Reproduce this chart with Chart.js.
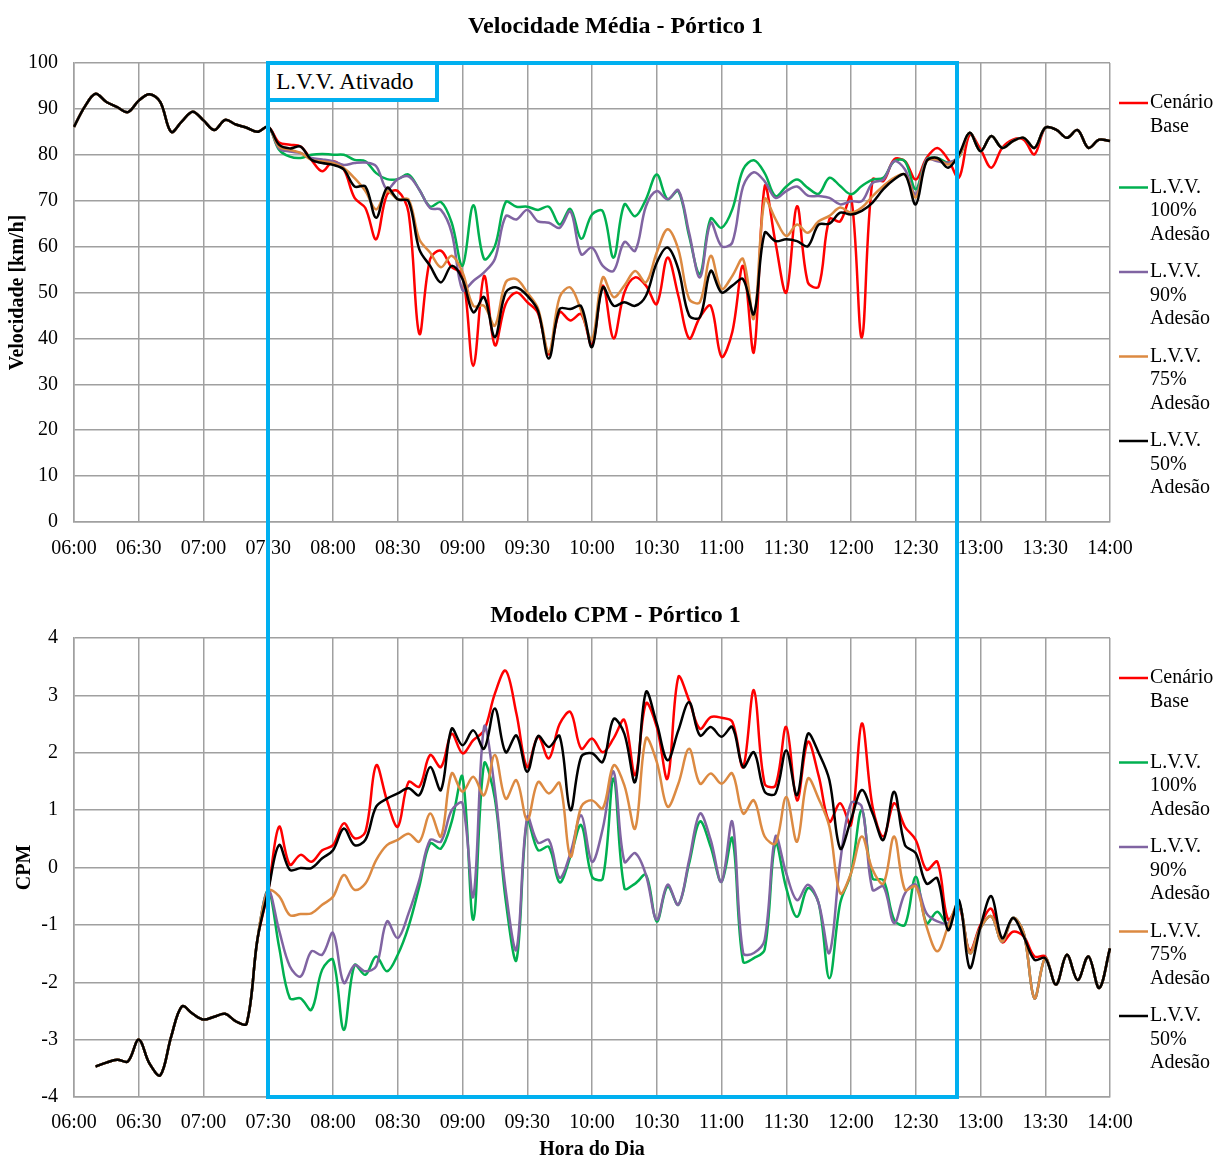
<!DOCTYPE html>
<html lang="pt">
<head>
    <meta charset="UTF-8">
    <title>Velocidade Média e Modelo CPM - Pórtico 1</title>
    <script src="https://cdn.jsdelivr.net/npm/chart.js"></script>
    <style>
        body { margin: 0; background: #fff; }
        #pagina { position: relative; width: 1219px; height: 1158px; overflow: hidden; }
        #grafVel { position: absolute; left: 0; top: 0; }
        #grafCpm { position: absolute; left: 0; top: 570px; }
        #janela { position: absolute; border: 4px solid #00b0f0; box-sizing: border-box; pointer-events: none; }
        #rotulo { position: absolute; border: 4px solid #00b0f0; box-sizing: border-box; background: #fff;
                  font: 23px 'Liberation Serif', serif; color: #000; padding-left: 6px; line-height: 33px; white-space: nowrap; }
    </style>
</head>
<body>
<div id="pagina">
    <canvas id="grafVel" width="1219" height="562"></canvas>
    <canvas id="grafCpm" width="1219" height="588"></canvas>
    <div id="janela"></div>
    <div id="rotulo">L.V.V. Ativado</div>
</div>

<script>
// horário (intervalos de 5 min)
const horas = [
    '06:00','06:05','06:10','06:15','06:20','06:25','06:30','06:35','06:40','06:45','06:50','06:55',
    '07:00','07:05','07:10','07:15','07:20','07:25','07:30','07:35','07:40','07:45','07:50','07:55',
    '08:00','08:05','08:10','08:15','08:20','08:25','08:30','08:35','08:40','08:45','08:50','08:55',
    '09:00','09:05','09:10','09:15','09:20','09:25','09:30','09:35','09:40','09:45','09:50','09:55',
    '10:00','10:05','10:10','10:15','10:20','10:25','10:30','10:35','10:40','10:45','10:50','10:55',
    '11:00','11:05','11:10','11:15','11:20','11:25','11:30','11:35','11:40','11:45','11:50','11:55',
    '12:00','12:05','12:10','12:15','12:20','12:25','12:30','12:35','12:40','12:45','12:50','12:55',
    '13:00','13:05','13:10','13:15','13:20','13:25','13:30','13:35','13:40','13:45','13:50','13:55',
    '14:00'
];

const nomesSeries = ['Cenário\nBase', 'L.V.V.\n100%\nAdesão', 'L.V.V.\n90%\nAdesão', 'L.V.V.\n75%\nAdesão', 'L.V.V.\n50%\nAdesão'];
const coresSeries = ['#ff0000', '#00b050', '#8064a2', '#dc8a42', '#000000'];

// janela do L.V.V. (posição na escala de horas)
const LVV_INICIO = '07:30';
const LVV_FIM = 81.8; // ~12:49

// ---- Velocidade média [km/h] ----
// 06:00 - 07:30 (igual em todos os cenários)
const velInicio = [86.1, 90.5, 93.3, 91.5, 90.4, 89.3, 91.8, 93.2, 91.5, 85.0, 87.3, 89.4, 87.5, 85.4, 87.6, 86.6, 85.9, 85.0, 86.1];
// 07:35 - 12:50
const velBase = [82.7, 82.2, 81.8, 78.9, 76.4, 78.6, 76.8, 70.6, 68.4, 61.6, 71.3, 72.1, 67.4, 41.0, 57.3, 59.1,
    55.5, 54.0, 34.0, 53.6, 38.5, 47.5, 50.0, 47.9, 45.5, 36.5, 45.7, 43.9, 45.3, 38.5, 51.5, 40.0,
    50.0, 53.3, 51.5, 47.5, 57.6, 49.3, 40.0, 44.6, 47.1, 36.0, 41.4, 55.8, 37.0, 73.1, 60.9, 50.0,
    68.8, 52.2, 51.3, 66.0, 65.5, 71.0, 40.2, 74.6, 74.3, 79.0, 78.6, 74.6, 79.3, 81.5, 79.0, 75.0];
const velLvv100 = [81.1, 79.6, 79.3, 80.0, 80.2, 80.0, 80.0, 78.9, 78.6, 76.0, 74.7, 74.7, 75.7, 72.4, 68.7, 69.7,
    65.2, 55.8, 69.0, 57.3, 60.1, 69.7, 68.7, 68.7, 68.0, 68.7, 64.8, 68.2, 61.7, 67.0, 67.7, 57.6,
    69.2, 66.6, 70.3, 75.7, 70.3, 72.1, 62.3, 54.0, 66.1, 64.1, 68.1, 76.8, 78.8, 76.0, 71.0, 73.1,
    74.6, 72.8, 71.5, 75.0, 73.2, 71.4, 73.2, 74.6, 75.0, 78.6, 78.6, 72.5, 79.0, 79.3, 78.3, 79.5];
const velLvv90 = [81.4, 80.7, 80.4, 79.3, 79.0, 78.6, 77.8, 78.2, 78.3, 77.5, 72.5, 74.7, 75.3, 72.4, 68.4, 68.0,
    63.0, 50.5, 52.5, 54.4, 57.3, 66.6, 65.9, 68.0, 65.5, 65.2, 64.1, 67.7, 58.3, 59.8, 55.8, 54.7,
    61.0, 59.1, 68.8, 72.1, 70.3, 72.3, 63.0, 53.3, 65.2, 60.1, 60.9, 73.1, 76.2, 74.2, 70.6, 72.1,
    73.1, 71.1, 71.0, 70.6, 69.2, 69.9, 69.9, 73.9, 74.6, 78.6, 76.8, 71.4, 79.0, 78.6, 78.3, 79.7];
const velLvv75 = [81.8, 81.1, 80.4, 78.9, 78.6, 78.2, 77.1, 74.9, 72.1, 68.1, 72.1, 70.3, 70.3, 61.6, 58.7, 55.5,
    58.0, 54.4, 47.1, 47.1, 42.8, 52.2, 52.9, 50.0, 46.5, 37.0, 49.0, 51.1, 46.0, 39.8, 53.3, 49.0,
    51.5, 54.7, 52.2, 58.7, 63.8, 59.4, 48.6, 47.9, 58.0, 50.8, 53.6, 57.3, 44.3, 70.3, 66.0, 62.3,
    64.8, 63.0, 65.5, 66.7, 68.5, 67.4, 68.5, 71.0, 73.2, 75.0, 75.7, 70.7, 78.6, 79.0, 77.9, 79.7];
const velLvv50 = [82.2, 81.4, 81.8, 78.9, 78.2, 77.8, 76.8, 73.1, 73.1, 66.3, 72.8, 70.3, 69.9, 59.4, 55.8, 52.2,
    55.8, 52.9, 45.7, 49.0, 40.3, 50.0, 51.1, 49.3, 46.0, 35.6, 46.4, 46.4, 47.0, 38.1, 51.1, 47.1,
    47.9, 47.1, 49.3, 56.5, 59.8, 55.1, 45.0, 44.6, 54.7, 50.0, 51.5, 52.9, 45.3, 63.0, 61.2, 61.6,
    61.2, 60.1, 64.8, 65.0, 67.4, 67.0, 67.8, 69.6, 72.5, 74.6, 75.7, 69.2, 78.6, 79.3, 77.2, 80.1];
// 12:55 - 14:00
const velFimBase = [84.4, 81.2, 77.2, 81.5, 83.3, 83.3, 80.1, 85.9, 85.5, 83.7, 85.4, 81.5, 83.3, 83.0];
const velFimLvv = [84.8, 80.8, 84.1, 81.5, 83.0, 83.7, 81.5, 85.9, 85.5, 83.7, 85.4, 81.5, 83.3, 83.0];

// ---- Modelo CPM ----
const cpmInicio = [null, null, -3.47, -3.40, -3.35, -3.38, -3.00, -3.42, -3.62, -2.95, -2.42, -2.55, -2.65, -2.60, -2.55, -2.68, -2.72, -1.25, -0.40];
const cpmBase = [0.71, 0.05, 0.22, 0.10, 0.30, 0.39, 0.77, 0.51, 0.62, 1.78, 1.17, 0.71, 1.49, 1.41, 1.96, 1.75,
    2.33, 1.99, 2.22, 2.39, 3.03, 3.43, 2.68, 1.75, 2.28, 1.90, 2.50, 2.71, 2.07, 2.25, 2.01, 2.25,
    2.57, 1.61, 2.86, 2.45, 1.55, 3.32, 2.91, 2.42, 2.62, 2.61, 2.54, 1.75, 3.09, 1.46, 1.43, 2.45,
    1.17, 2.19, 1.60, 0.80, 1.12, 0.74, 2.51, 1.06, 0.54, 1.12, 0.71, 0.48, -0.04, 0.10, -0.91, -0.68];
const cpmLvv100 = [-1.38, -2.28, -2.28, -2.48, -1.78, -1.61, -2.83, -1.70, -1.87, -1.55, -1.81, -1.52, -1.03, -0.33, 0.42, 0.33,
    0.80, 1.58, -0.91, 1.81, 1.20, -0.57, -1.61, 0.83, 0.30, 0.36, -0.26, 0.19, 0.74, -0.16, -0.19, 1.55,
    -0.36, -0.28, -0.13, -0.94, -0.33, -0.65, 0.07, 0.80, 0.36, -0.25, 0.51, -1.64, -1.58, -1.43, 0.42, -0.36,
    -0.86, -0.36, -0.62, -1.93, -0.62, -0.10, 1.00, -0.19, -0.22, -0.91, -1.00, -0.16, -0.97, -0.77, -1.00, -0.62];
const cpmLvv90 = [-1.09, -1.72, -1.90, -1.46, -1.52, -1.14, -2.01, -1.70, -1.81, -1.72, -0.94, -1.23, -0.80, -0.22, 0.48, 0.45,
    1.00, 1.12, -0.51, 2.45, 1.35, -0.39, -1.43, 0.88, 0.43, 0.48, -0.18, 0.25, 0.91, 0.10, 0.68, 1.67,
    0.10, 0.25, -0.13, -0.91, -0.30, -0.65, 0.13, 0.94, 0.48, -0.25, 0.80, -1.49, -1.49, -1.26, 0.54, -0.10,
    -0.57, -0.30, -0.62, -1.49, 0.10, 1.12, 1.06, -0.39, -0.33, -0.97, -0.45, -0.30, -0.80, -0.94, -0.97, -0.62];
const cpmLvv75 = [-0.50, -0.83, -0.81, -0.80, -0.65, -0.51, -0.13, -0.39, -0.28, 0.13, 0.39, 0.48, 0.59, 0.45, 0.94, 0.54,
    1.64, 1.32, 1.58, 1.26, 1.96, 1.20, 1.52, 0.83, 1.49, 1.29, 1.47, 0.19, 1.06, 1.17, 1.03, 1.78,
    1.43, 0.68, 2.25, 1.84, 1.06, 1.46, 2.07, 1.46, 1.64, 1.46, 1.64, 0.94, 1.17, 0.54, 0.42, 1.23,
    0.45, 1.55, 1.20, 0.71, -0.45, -0.10, 0.54, -0.04, -0.28, 0.54, -0.39, -0.33, -1.03, -1.46, -1.03, -0.62];
const cpmLvv50 = [0.39, -0.04, -0.01, -0.01, 0.16, 0.30, 0.68, 0.39, 0.48, 1.06, 1.20, 1.29, 1.38, 1.26, 1.75, 1.35,
    2.42, 2.13, 2.39, 2.07, 2.77, 2.01, 2.30, 1.67, 2.29, 2.10, 2.29, 1.00, 1.93, 1.99, 1.84, 2.59,
    2.33, 1.49, 3.06, 2.51, 1.87, 2.39, 2.88, 2.30, 2.45, 2.28, 2.45, 1.75, 2.01, 1.32, 1.29, 2.04,
    1.26, 2.33, 2.00, 1.52, 0.33, 0.83, 1.35, 0.94, 0.48, 1.32, 0.39, 0.25, -0.28, -0.19, -1.09, -0.57];
const cpmFimBase = [-1.45, -1.00, -0.72, -1.30, -1.12, -1.20, -1.55, -1.55, -2.04, -1.52, -1.96, -1.55, -2.10, -1.41];
const cpmFimLvv75 = [-1.49, -1.05, -0.85, -1.29, -0.88, -1.14, -2.28, -1.58, -2.04, -1.52, -1.96, -1.55, -2.10, -1.41];
const cpmFimLvv50 = [-1.75, -1.03, -0.50, -1.23, -0.88, -1.20, -1.61, -1.58, -2.04, -1.52, -1.96, -1.55, -2.10, -1.41];

const FONTE = "'Liberation Serif', 'Times New Roman', serif";
const COR_GRADE = '#a0a0a0';

// legenda à direita, com quebras de linha
const legendaLateral = {
    id: 'legendaLateral',
    afterDraw(chart) {
        const ctx = chart.ctx;
        const area = chart.chartArea;
        ctx.save();
        ctx.font = '20px ' + FONTE;
        ctx.textBaseline = 'middle';
        ctx.fillStyle = '#000';
        chart.data.datasets.forEach((ds, k) => {
            const y0 = area.top + 40 + k * 84.5;
            ctx.strokeStyle = ds.borderColor;
            ctx.lineWidth = 2.5;
            ctx.beginPath();
            ctx.moveTo(area.right + 9, y0);
            ctx.lineTo(area.right + 38, y0);
            ctx.stroke();
            ds.label.split('\n').forEach((linha, j) => ctx.fillText(linha, area.right + 40, y0 + j * 23.5));
        });
        ctx.restore();
    }
};

function criarGrafico(canvasId, series, opc) {
    const ordem = [5, 4, 3, 2, 1]; // preto por cima
    return new Chart(document.getElementById(canvasId), {
        type: 'line',
        data: {
            labels: horas,
            datasets: series.map((dados, k) => ({
                label: nomesSeries[k],
                data: dados,
                borderColor: coresSeries[k],
                backgroundColor: coresSeries[k],
                borderWidth: 2.5,
                pointRadius: 0,
                tension: 0.35,
                fill: false,
                order: ordem[k]
            }))
        },
        options: {
            responsive: false,
            animation: false,
            events: [],
            layout: { padding: { left: 12 } },
            plugins: {
                legend: { display: false },
                tooltip: { enabled: false },
                title: {
                    display: true, text: opc.titulo, color: '#000',
                    font: { family: FONTE, size: 24, weight: 'bold' },
                    padding: opc.tituloPad
                }
            },
            scales: {
                x: {
                    type: 'category',
                    grid: { color: c => (c.index % 6 === 0 ? COR_GRADE : 'rgba(0,0,0,0)'), lineWidth: 1.5, drawTicks: false },
                    border: { color: COR_GRADE, width: 1.5 },
                    ticks: {
                        autoSkip: false, maxRotation: 0, minRotation: 0, padding: opc.padX, color: '#000',
                        font: { family: FONTE, size: 20 },
                        callback: (v, i) => (i % 6 === 0 ? horas[i] : '')
                    },
                    title: opc.tituloX ? {
                        display: true, text: opc.tituloX, color: '#000',
                        font: { family: FONTE, size: 20, weight: 'bold', lineHeight: 0.8 },
                        padding: { top: 0, bottom: 0 }
                    } : { display: false },
                    afterFit: s => { s.height = opc.alturaX; }
                },
                y: {
                    min: opc.min, max: opc.max,
                    grid: { color: COR_GRADE, lineWidth: 1.5, drawTicks: false },
                    border: { color: COR_GRADE, width: 1.5 },
                    ticks: { stepSize: opc.passo, padding: 16, color: '#000', font: { family: FONTE, size: 20 } },
                    title: {
                        display: true, text: opc.tituloY, color: '#000',
                        font: { family: FONTE, size: 20, weight: 'bold', lineHeight: 0.6 },
                        padding: { top: opc.tituloYPad, bottom: 0 }
                    },
                    afterFit: s => { s.width = 62; }
                },
                // espaço reservado para a legenda
                yLegenda: {
                    position: 'right', display: true,
                    grid: { display: false }, border: { display: false }, ticks: { display: false },
                    afterFit: s => { s.width = 109; }
                }
            }
        },
        plugins: [legendaLateral]
    });
}

const grafVel = criarGrafico('grafVel', [
    velInicio.concat(velBase, velFimBase),
    velInicio.concat(velLvv100, velFimLvv),
    velInicio.concat(velLvv90, velFimLvv),
    velInicio.concat(velLvv75, velFimLvv),
    velInicio.concat(velLvv50, velFimLvv)
], {
    titulo: 'Velocidade Média - Pórtico 1', tituloPad: { top: 12.6, bottom: 21.6 },
    min: 0, max: 100, passo: 10, tituloY: 'Velocidade [km/h]', tituloYPad: 0, alturaX: 40, padX: 15
});

const grafCpm = criarGrafico('grafCpm', [
    cpmInicio.concat(cpmBase, cpmFimBase),
    cpmInicio.concat(cpmLvv100, cpmFimLvv75),
    cpmInicio.concat(cpmLvv90, cpmFimLvv75),
    cpmInicio.concat(cpmLvv75, cpmFimLvv75),
    cpmInicio.concat(cpmLvv50, cpmFimLvv50)
], {
    titulo: 'Modelo CPM - Pórtico 1', tituloPad: { top: 31.6, bottom: 7.6 },
    min: -4, max: 4, passo: 1, tituloY: 'CPM', tituloYPad: 7, alturaX: 61, padX: 14, tituloX: 'Hora do Dia'
});

// retângulo azul da janela de ativação, a partir das escalas
const topoCpm = 570;
const xs = grafVel.scales.x;
const x1 = xs.getPixelForValue(horas.indexOf(LVV_INICIO));
const x2 = xs.getPixelForValue(LVV_FIM);
const yTopo = grafVel.chartArea.top;
const yBase = topoCpm + grafCpm.chartArea.bottom;
const janela = document.getElementById('janela');
janela.style.left = (x1 - 2) + 'px';
janela.style.top = (yTopo - 2) + 'px';
janela.style.width = (x2 - x1 + 4) + 'px';
janela.style.height = (yBase - yTopo + 4) + 'px';
const rotulo = document.getElementById('rotulo');
rotulo.style.left = (x1 - 2) + 'px';
rotulo.style.top = (yTopo - 2) + 'px';
rotulo.style.width = '173px';
rotulo.style.height = '41px';
</script>
</body>
</html>
